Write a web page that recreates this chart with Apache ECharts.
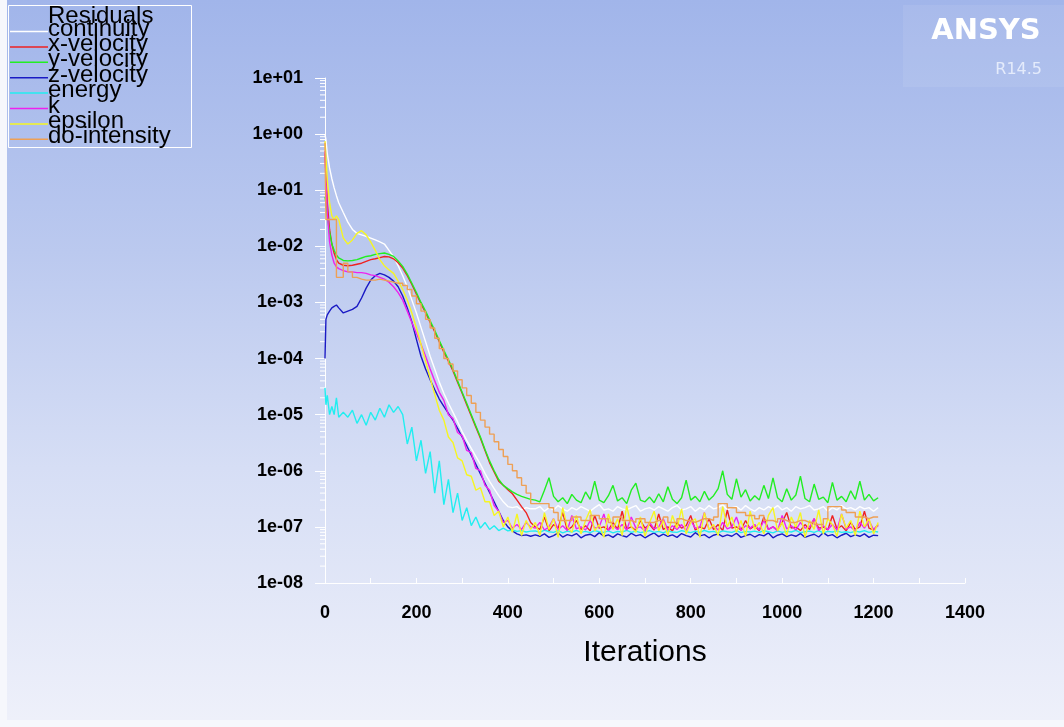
<!DOCTYPE html>
<html>
<head>
<meta charset="utf-8">
<title>Residuals</title>
<script src="https://cdn.jsdelivr.net/npm/echarts@6/dist/echarts.min.js"></script>
<style>
  html, body { margin: 0; padding: 0; background: #f6f7fc; }
  #main {
    position: absolute; left: 7px; top: 0; width: 1057px; height: 720px;
    background: linear-gradient(to bottom, #a1b5ea 0%, #bbc9ef 35%, #d6def5 65%, #eef0fa 100%);
  }
</style>
</head>
<body>
<div id="main"></div>
<script>
// residual history (iteration -> residual)
var iterations = [
  0, 2, 5, 10, 15, 20, 25, 30, 40, 50,
  60, 70, 80, 90, 100, 110, 120, 130, 140, 150,
  160, 170, 180, 190, 200, 210, 220, 230, 240, 250,
  260, 270, 280, 290, 300, 310, 320, 330, 340, 350,
  360, 370, 380, 390, 400, 410, 420, 430, 440, 450,
  460, 470, 480, 490, 500, 510, 520, 530, 540, 550,
  560, 570, 580, 590, 600, 610, 620, 630, 640, 650,
  660, 670, 680, 690, 700, 710, 720, 730, 740, 750,
  760, 770, 780, 790, 800, 810, 820, 830, 840, 850,
  860, 870, 880, 890, 900, 910, 920, 930, 940, 950,
  960, 970, 980, 990, 1000, 1010, 1020, 1030, 1040, 1050,
  1060, 1070, 1080, 1090, 1100, 1110, 1120, 1130, 1140, 1150,
  1160, 1170, 1180, 1190, 1200, 1210
];

var continuity = [
  1.0, 0.8, 0.45, 0.25, 0.16, 0.11, 0.08, 0.06, 0.04, 0.027,
  0.02, 0.017, 0.016, 0.015, 0.014, 0.013, 0.012, 0.011, 0.0085, 0.0065,
  0.0045, 0.003, 0.0019, 0.0011, 6.5e-4, 3.6e-4, 2e-4, 1.1e-4, 6.5e-5, 3.8e-5,
  2.4e-5, 1.6e-5, 1.1e-5, 7.5e-6, 5e-6, 3.5e-6, 2.5e-6, 1.8e-6, 1.3e-6, 9e-7,
  6.5e-7, 4.8e-7, 3.6e-7, 2.8e-7, 2.3e-7, 2.2e-7, 2.3e-7, 2e-7, 2.2e-7, 2.1e-7,
  2.1e-7, 2.3e-7, 1.9e-7, 2.2e-7, 2.0e-7, 2.4e-7, 2.1e-7, 1.9e-7, 2.2e-7, 2.0e-7,
  2.3e-7, 2.1e-7, 1.9e-7, 2.2e-7, 2.5e-7, 2.0e-7, 2.1e-7, 1.9e-7, 2.3e-7, 2.1e-7,
  2.0e-7, 2.2e-7, 2.4e-7, 1.9e-7, 2.1e-7, 2.2e-7, 2.0e-7, 2.3e-7, 2.1e-7, 1.9e-7,
  2.2e-7, 2.4e-7, 2.0e-7, 2.1e-7, 2.3e-7, 1.9e-7, 2.2e-7, 2.0e-7, 2.4e-7, 2.1e-7,
  2.2e-7, 2.5e-7, 2.0e-7, 2.2e-7, 2.3e-7, 2.0e-7, 2.4e-7, 2.1e-7, 1.9e-7, 2.2e-7,
  2.0e-7, 2.3e-7, 2.1e-7, 2.4e-7, 2.0e-7, 2.2e-7, 1.9e-7, 2.3e-7, 2.1e-7, 2.2e-7,
  2.4e-7, 2.0e-7, 2.1e-7, 2.3e-7, 1.9e-7, 2.2e-7, 2.0e-7, 2.4e-7, 2.1e-7, 2.2e-7,
  2.0e-7, 2.3e-7, 2.1e-7, 2.2e-7, 1.9e-7, 2.2e-7
];

var xVelocity = [
  0.45, 0.2, 0.06, 0.02, 0.011, 0.0075, 0.0058, 0.005, 0.0046, 0.0045,
  0.0046, 0.0048, 0.005, 0.0054, 0.0058, 0.006, 0.0063, 0.0066, 0.0065, 0.006,
  0.0051, 0.0041, 0.003, 0.0021, 0.0014, 9.5e-4, 6.6e-4, 4.4e-4, 3e-4, 2e-4,
  1.3e-4, 9e-5, 6e-5, 3.8e-5, 2.4e-5, 1.5e-5, 9.5e-6, 6e-6, 3.8e-6, 2.3e-6,
  1.4e-6, 9.5e-7, 6.5e-7, 5.5e-7, 4.6e-7, 3.9e-7, 3e-7, 2.3e-7, 1.8e-7, 1.2e-7,
  1.0e-7, 9e-8, 1.5e-7, 8.5e-8, 1.1e-7, 9.5e-8, 1.8e-7, 8.8e-8, 1e-7, 1.3e-7,
  9e-8, 1.05e-7, 8.5e-8, 1.6e-7, 9.5e-8, 1e-7, 8.8e-8, 1.2e-7, 9e-8, 1.9e-7,
  9.2e-8, 1e-7, 8.6e-8, 1.3e-7, 9.5e-8, 1.1e-7, 8.8e-8, 1.7e-7, 9e-8, 1e-7,
  8.5e-8, 1.2e-7, 9.5e-8, 1.05e-7, 1.6e-7, 8.8e-8, 1e-7, 9.2e-8, 1.4e-7, 9e-8,
  1.1e-7, 8.6e-8, 2e-7, 9.5e-8, 1e-7, 8.8e-8, 1.3e-7, 9.2e-8, 1.05e-7, 8.5e-8,
  1.5e-7, 9e-8, 1e-7, 8.8e-8, 1.2e-7, 1.8e-7, 9.5e-8, 1e-7, 8.6e-8, 1.1e-7,
  9e-8, 1.4e-7, 9.5e-8, 1e-7, 8.8e-8, 1.6e-7, 9.2e-8, 1.05e-7, 8.5e-8, 1.2e-7,
  9e-8, 1e-7, 1.9e-7, 9.5e-8, 8.8e-8, 1.1e-7
];

var yVelocity = [
  0.075, 0.06, 0.035, 0.018, 0.011, 0.0085, 0.007, 0.0062, 0.0056, 0.0055,
  0.0056, 0.0058, 0.0062, 0.0066, 0.0068, 0.0072, 0.0074, 0.0076, 0.0072, 0.0066,
  0.0055, 0.0044, 0.0032, 0.0022, 0.0015, 0.001, 7e-4, 4.7e-4, 3.2e-4, 2.1e-4,
  1.4e-4, 9.5e-5, 6.4e-5, 4e-5, 2.5e-5, 1.6e-5, 1e-5, 6.3e-6, 4e-6, 2.4e-6,
  1.5e-6, 1e-6, 7e-7, 5.5e-7, 4.8e-7, 4.2e-7, 3.8e-7, 3.5e-7, 3.3e-7, 3.1e-7,
  3.0e-7, 2.8e-7, 4.5e-7, 7.5e-7, 3.5e-7, 2.8e-7, 3.3e-7, 2.6e-7, 3.8e-7, 3e-7,
  2.7e-7, 4.2e-7, 3.1e-7, 6.5e-7, 3e-7, 2.7e-7, 3.6e-7, 5.5e-7, 2.9e-7, 3.3e-7,
  2.6e-7, 4.5e-7, 6e-7, 3e-7, 2.8e-7, 3.4e-7, 2.7e-7, 3.9e-7, 2.8e-7, 5.2e-7,
  3.1e-7, 2.6e-7, 3.3e-7, 6.8e-7, 3e-7, 3.5e-7, 2.8e-7, 4.3e-7, 3e-7, 3.6e-7,
  4.8e-7, 1.0e-6, 3.8e-7, 3.1e-7, 7.2e-7, 3.4e-7, 4.6e-7, 2.9e-7, 3.6e-7, 3e-7,
  5.5e-7, 3.2e-7, 7.5e-7, 3.3e-7, 2.8e-7, 4.8e-7, 3e-7, 3.7e-7, 8e-7, 3.2e-7,
  2.8e-7, 5.8e-7, 3.1e-7, 3.4e-7, 2.7e-7, 6.2e-7, 3e-7, 3.5e-7, 2.8e-7, 4.4e-7,
  3.1e-7, 6.5e-7, 3e-7, 3.8e-7, 2.9e-7, 3.3e-7
];

var zVelocity = [
  1e-4, 5e-4, 6e-4, 7e-4, 8e-4, 8.5e-4, 9e-4, 8e-4, 6.5e-4, 7e-4,
  7.5e-4, 8.5e-4, 1.2e-3, 1.8e-3, 2.5e-3, 3e-3, 3.3e-3, 3.1e-3, 2.8e-3, 2.4e-3,
  1.9e-3, 1.3e-3, 8e-4, 4.5e-4, 2.2e-4, 1.1e-4, 6.5e-5, 4.2e-5, 2.8e-5, 1.9e-5,
  1.4e-5, 1.05e-5, 8e-6, 5.7e-6, 4e-6, 2.8e-6, 1.9e-6, 1.3e-6, 8.8e-7, 6e-7,
  4.1e-7, 2.8e-7, 1.9e-7, 1.3e-7, 1e-7, 8.5e-8, 7.5e-8, 7e-8, 7.2e-8, 6.8e-8,
  7.2e-8, 6.8e-8, 7.5e-8, 6.5e-8, 7e-8, 7.8e-8, 6.6e-8, 7.3e-8, 6.9e-8, 7.6e-8,
  6.4e-8, 7.1e-8, 7.4e-8, 6.7e-8, 7.9e-8, 6.8e-8, 7.2e-8, 6.5e-8, 7.5e-8, 7e-8,
  6.6e-8, 7.7e-8, 6.9e-8, 7.3e-8, 6.4e-8, 7.1e-8, 7.8e-8, 6.7e-8, 7.4e-8, 6.8e-8,
  7.2e-8, 6.5e-8, 7.6e-8, 7e-8, 6.6e-8, 7.9e-8, 6.9e-8, 7.3e-8, 6.4e-8, 7.1e-8,
  7.5e-8, 6.7e-8, 7.2e-8, 6.8e-8, 7.7e-8, 6.5e-8, 7e-8, 7.4e-8, 6.6e-8, 7.3e-8,
  6.9e-8, 7.8e-8, 6.4e-8, 7.1e-8, 7.5e-8, 6.7e-8, 7.2e-8, 6.8e-8, 7.6e-8, 6.5e-8,
  7e-8, 7.4e-8, 6.6e-8, 7.9e-8, 6.9e-8, 7.3e-8, 6.4e-8, 7.1e-8, 7.7e-8, 6.7e-8,
  7.2e-8, 6.8e-8, 7.5e-8, 6.5e-8, 7.1e-8, 7e-8
];

var energy = [
  3e-5, 1.5e-5, 2.2e-5, 1e-5, 1.4e-5, 1e-5, 2e-5, 9e-6, 1.1e-5, 9e-6,
  1.2e-5, 7e-6, 1e-5, 6.5e-6, 1.1e-5, 8e-6, 1.3e-5, 9e-6, 1.5e-5, 1.1e-5,
  1.4e-5, 1e-5, 3e-6, 6e-6, 1.5e-6, 3.5e-6, 9e-7, 2.2e-6, 4e-7, 1.5e-6,
  2.5e-7, 7e-7, 1.8e-7, 4e-7, 1.3e-7, 2.2e-7, 1.05e-7, 1.5e-7, 9.5e-8, 1.2e-7,
  9e-8, 1.05e-7, 8.6e-8, 9.5e-8, 8.5e-8, 8.8e-8, 8.3e-8, 8.6e-8, 8.1e-8, 8.4e-8,
  8.5e-8, 8e-8, 8.8e-8, 8.2e-8, 8e-8, 8.6e-8, 7.8e-8, 8.4e-8, 8.1e-8, 8.7e-8,
  8e-8, 8.3e-8, 7.9e-8, 8.6e-8, 8.2e-8, 8e-8, 8.5e-8, 7.8e-8, 8.3e-8, 8.1e-8,
  8.7e-8, 8e-8, 8.4e-8, 7.9e-8, 8.2e-8, 8.6e-8, 8e-8, 8.3e-8, 7.8e-8, 8.5e-8,
  8.1e-8, 8e-8, 8.6e-8, 8.2e-8, 7.9e-8, 8.4e-8, 8e-8, 8.7e-8, 8.1e-8, 8.3e-8,
  7.8e-8, 8.5e-8, 8.2e-8, 8e-8, 8.6e-8, 7.9e-8, 8.3e-8, 8.1e-8, 8.4e-8, 8e-8,
  8.6e-8, 8.2e-8, 7.8e-8, 8.5e-8, 8e-8, 8.3e-8, 8.1e-8, 8.7e-8, 7.9e-8, 8.2e-8,
  8.4e-8, 8e-8, 8.6e-8, 7.8e-8, 8.3e-8, 8.1e-8, 8.5e-8, 8e-8, 8.2e-8, 7.9e-8,
  8.4e-8, 8.1e-8, 8.6e-8, 8e-8, 8.3e-8, 8.1e-8
];

var kResidual = [
  0.5, 0.15, 0.04, 0.012, 0.007, 0.005, 0.0043, 0.004, 0.0037, 0.0035,
  0.0035, 0.0034, 0.0034, 0.0033, 0.0031, 0.003, 0.0028, 0.0026, 0.0023, 0.0019,
  0.0015, 0.0011, 7e-4, 4.4e-4, 2.8e-4, 1.8e-4, 1.1e-4, 6.5e-5, 4e-5, 2.5e-5,
  1.8e-5, 1e-5, 8.5e-6, 4.8e-6, 4.2e-6, 2.3e-6, 2.1e-6, 1.1e-6, 1e-6, 5.5e-7,
  4.5e-7, 2.4e-7, 1.9e-7, 1.2e-7, 1.3e-7, 9.5e-8, 1.1e-7, 9e-8, 1.2e-7, 1e-7,
  9.5e-8, 1.2e-7, 8.8e-8, 1e-7, 1.4e-7, 9e-8, 1.05e-7, 8.6e-8, 1.6e-7, 9.2e-8,
  1e-7, 8.8e-8, 1.3e-7, 9.5e-8, 1e-7, 1.7e-7, 8.6e-8, 1.05e-7, 9e-8, 1.1e-7,
  8.8e-8, 1.5e-7, 9.5e-8, 1e-7, 8.5e-8, 1.2e-7, 9.2e-8, 1e-7, 1.4e-7, 8.8e-8,
  1.05e-7, 9e-8, 1.1e-7, 8.6e-8, 1.3e-7, 9.5e-8, 1e-7, 1.8e-7, 9e-8, 1.05e-7,
  8.8e-8, 1.2e-7, 9.2e-8, 1e-7, 1.5e-7, 8.6e-8, 1.05e-7, 9.5e-8, 1.1e-7, 8.8e-8,
  1.3e-7, 9e-8, 1e-7, 8.5e-8, 1.6e-7, 9.2e-8, 1.05e-7, 8.8e-8, 1.2e-7, 9.5e-8,
  1e-7, 1.4e-7, 8.6e-8, 1.05e-7, 9e-8, 1.1e-7, 8.8e-8, 1.7e-7, 9.2e-8, 1e-7,
  8.5e-8, 1.2e-7, 9.5e-8, 1.3e-7, 9e-8, 1.05e-7
];

var epsilon = [
  0.75, 0.4, 0.15, 0.06, 0.035, 0.03, 0.035, 0.03, 0.014, 0.011,
  0.013, 0.017, 0.019, 0.016, 0.012, 0.0085, 0.0058, 0.0045, 0.0038, 0.0033,
  0.0024, 0.0017, 0.0011, 6.5e-4, 3.5e-4, 1.8e-4, 9e-5, 4.5e-5, 2.3e-5, 1.2e-5,
  8e-6, 4e-6, 3.2e-6, 1.7e-6, 1.5e-6, 8.5e-7, 8e-7, 4.5e-7, 5e-7, 2.8e-7,
  2.8e-7, 1.6e-7, 1.9e-7, 1e-7, 1.5e-7, 8e-8, 1.7e-7, 7e-8, 1.3e-7, 9e-8,
  1.2e-7, 7e-8, 1.8e-7, 9e-8, 1.4e-7, 6.5e-8, 2.2e-7, 1e-7, 8e-8, 1.6e-7,
  7.5e-8, 1.3e-7, 2e-7, 8.5e-8, 1.1e-7, 6.5e-8, 1.7e-7, 9e-8, 1.4e-7, 7e-8,
  2.4e-7, 1e-7, 8e-8, 1.5e-7, 6.8e-8, 1.2e-7, 1.9e-7, 8.5e-8, 1.3e-7, 7e-8,
  1.6e-7, 9.5e-8, 2.1e-7, 7.5e-8, 1.2e-7, 1.4e-7, 6.5e-8, 1.8e-7, 9e-8, 1.1e-7,
  7e-8, 2.3e-7, 1e-7, 1.5e-7, 8e-8, 1.3e-7, 6.8e-8, 1.9e-7, 9e-8, 1.2e-7,
  7.5e-8, 1.6e-7, 2.2e-7, 8.5e-8, 1.2e-7, 7e-8, 1.5e-7, 1e-7, 1.8e-7, 6.5e-8,
  1.3e-7, 9e-8, 2e-7, 7.5e-8, 1.4e-7, 1.1e-7, 6.8e-8, 1.7e-7, 9.5e-8, 1.3e-7,
  7e-8, 1.9e-7, 1e-7, 1.4e-7, 7.5e-8, 1.2e-7
];

var doIntensity = [
  0.7, 0.03, 0.03, 0.03, 0.03, 0.03, 0.0028, 0.0028, 0.005, 0.0035,
  0.0028, 0.0026, 0.0025, 0.0025, 0.0025, 0.0026, 0.0025, 0.0024, 0.0023, 0.0022,
  0.0022, 0.002, 0.0017, 0.0013, 9.5e-4, 7e-4, 5e-4, 3.5e-4, 2.3e-4, 1.5e-4,
  1e-4, 8e-5, 6e-5, 4.2e-5, 3e-5, 2.2e-5, 1.6e-5, 1.1e-5, 8e-6, 6e-6,
  4.5e-6, 3.3e-6, 2.4e-6, 1.8e-6, 1.3e-6, 1e-6, 7.5e-7, 5.5e-7, 4e-7, 2.6e-7,
  2.6e-7, 2.6e-7, 2.6e-7, 2.2e-7, 1.8e-7, 1.3e-7, 1.3e-7, 1.3e-7, 1.5e-7, 1.5e-7,
  1.3e-7, 1.3e-7, 1.6e-7, 1.6e-7, 1.4e-7, 1.4e-7, 1.2e-7, 1.5e-7, 1.5e-7, 1.3e-7,
  1.3e-7, 1.2e-7, 1.4e-7, 1.4e-7, 1.2e-7, 1.2e-7, 1.3e-7, 1.3e-7, 1.5e-7, 1.2e-7,
  1.2e-7, 1.4e-7, 1.3e-7, 1.3e-7, 1.2e-7, 1.3e-7, 1.4e-7, 1.4e-7, 1.3e-7, 1.5e-7,
  2.6e-7, 2.6e-7, 2.2e-7, 2.2e-7, 1.8e-7, 1.8e-7, 1.6e-7, 1.6e-7, 1.4e-7, 1.6e-7,
  1.3e-7, 1.3e-7, 1.2e-7, 1.4e-7, 1.3e-7, 1.2e-7, 1.2e-7, 1.3e-7, 1.3e-7, 1.2e-7,
  1.2e-7, 1.1e-7, 1.1e-7, 1.4e-7, 2.3e-7, 2.3e-7, 2.3e-7, 2e-7, 1.8e-7, 1.8e-7,
  1.5e-7, 1.5e-7, 1.4e-7, 1.5e-7, 1.5e-7, 1.5e-7
];

var seriesNames = ['continuity', 'x-velocity', 'y-velocity', 'z-velocity', 'energy', 'k', 'epsilon', 'do-intensity'];
var seriesValues = [continuity, xVelocity, yVelocity, zVelocity, energy, kResidual, epsilon, doIntensity];
var seriesColors = ['#ffffff', '#ee2222', '#22ee22', '#1a1ac4', '#22eef0', '#ee22ee', '#f6f622', '#eea055'];
var xTicks = [0, 200, 400, 600, 800, 1000, 1200, 1400];

var FONT = 'Liberation Sans, Arial, sans-serif';
var chart = echarts.init(document.getElementById('main'));

// 1e+01 style tick labels
function expLabel(v) {
  var e = Math.round(Math.log(v) / Math.LN10);
  var a = Math.abs(e);
  return '1e' + (e < 0 ? '-' : '+') + (a < 10 ? '0' : '') + a;
}

var series = seriesNames.map(function (name, i) {
  return {
    name: name,
    type: 'line',
    symbol: 'none',
    step: name === 'do-intensity' ? 'end' : false,
    lineStyle: { color: seriesColors[i], width: 1.4 },
    data: iterations.map(function (it, j) { return [it, seriesValues[i][j]]; })
  };
});

var option = {
  animation: false,
  grid: { left: 318, right: 99, top: 78, bottom: 137 },
  xAxis: {
    type: 'value',
    min: xTicks[0],
    max: xTicks[xTicks.length - 1],
    interval: 200,
    name: 'Iterations',
    nameLocation: 'middle',
    nameGap: 55,
    nameTextStyle: { fontFamily: FONT, fontSize: 30, color: '#000' },
    axisLine: { lineStyle: { color: '#ffffff', width: 1 } },
    axisTick: { inside: true, length: 5, lineStyle: { color: '#ffffff' } },
    minorTick: { show: true, splitNumber: 2, length: 5, lineStyle: { color: '#ffffff' } },
    splitLine: { show: false },
    axisLabel: {
      margin: 21, fontFamily: FONT, fontSize: 18, fontWeight: 'bold', color: '#000',
      formatter: function (v) { return String(v); }
    }
  },
  yAxis: {
    type: 'log',
    logBase: 10,
    min: 1e-8,
    max: 10,
    axisLine: { show: true, lineStyle: { color: '#ffffff', width: 1 } },
    axisTick: { show: true, length: 10, lineStyle: { color: '#ffffff' } },
    splitLine: { show: false },
    axisLabel: {
      margin: 22, fontFamily: FONT, fontSize: 18, fontWeight: 'bold', color: '#000',
      formatter: expLabel
    }
  },
  series: series
};
chart.setOption(option);

// log-spaced minor ticks on the y axis, placed through the axis scale
var x0 = chart.convertToPixel({ xAxisIndex: 0 }, 0);
var graphics = [];
for (var d = -8; d < 1; d++) {
  for (var m = 2; m < 10; m++) {
    var py = chart.convertToPixel({ yAxisIndex: 0 }, m * Math.pow(10, d));
    graphics.push({
      type: 'line', silent: true,
      shape: { x1: x0 - 5, y1: py, x2: x0, y2: py },
      style: { stroke: '#ffffff', lineWidth: 1 }
    });
  }
}

// legend block (top left)
graphics.push({
  type: 'rect', silent: true,
  shape: { x: 1.5, y: 5.5, width: 183, height: 142 },
  style: { fill: 'none', stroke: '#ffffff', lineWidth: 1 }
});
graphics.push({
  type: 'text', silent: true,
  style: { x: 41, y: 16, text: 'Residuals', font: '24px Liberation Sans, Arial, sans-serif', fill: '#000', verticalAlign: 'middle' }
});
seriesNames.forEach(function (name, i) {
  var ly = 31.5 + 15.4 * i;
  graphics.push({
    type: 'line', silent: true,
    shape: { x1: 3, y1: ly, x2: 41, y2: ly },
    style: { stroke: seriesColors[i], lineWidth: 1.5 }
  });
  graphics.push({
    type: 'text', silent: true,
    style: { x: 41, y: 29 + 15.4 * i, text: name, font: '24px Liberation Sans, Arial, sans-serif', fill: '#000', verticalAlign: 'middle' }
  });
});

// ANSYS badge (top right)
graphics.push({
  type: 'rect', silent: true,
  shape: { x: 896, y: 5, width: 161, height: 82 },
  style: { fill: 'rgba(255,255,255,0.08)' }
});
graphics.push({
  type: 'text', silent: true,
  style: { x: 979, y: 31, text: 'ANSYS', font: 'bold 29px DejaVu Sans', fill: '#ffffff', align: 'center', verticalAlign: 'middle' }
});
graphics.push({
  type: 'text', silent: true,
  style: { x: 1035, y: 70, text: 'R14.5', font: '16px DejaVu Sans', fill: '#e4ebfb', align: 'right', verticalAlign: 'middle' }
});

chart.setOption({ graphic: graphics });
</script>
</body>
</html>
